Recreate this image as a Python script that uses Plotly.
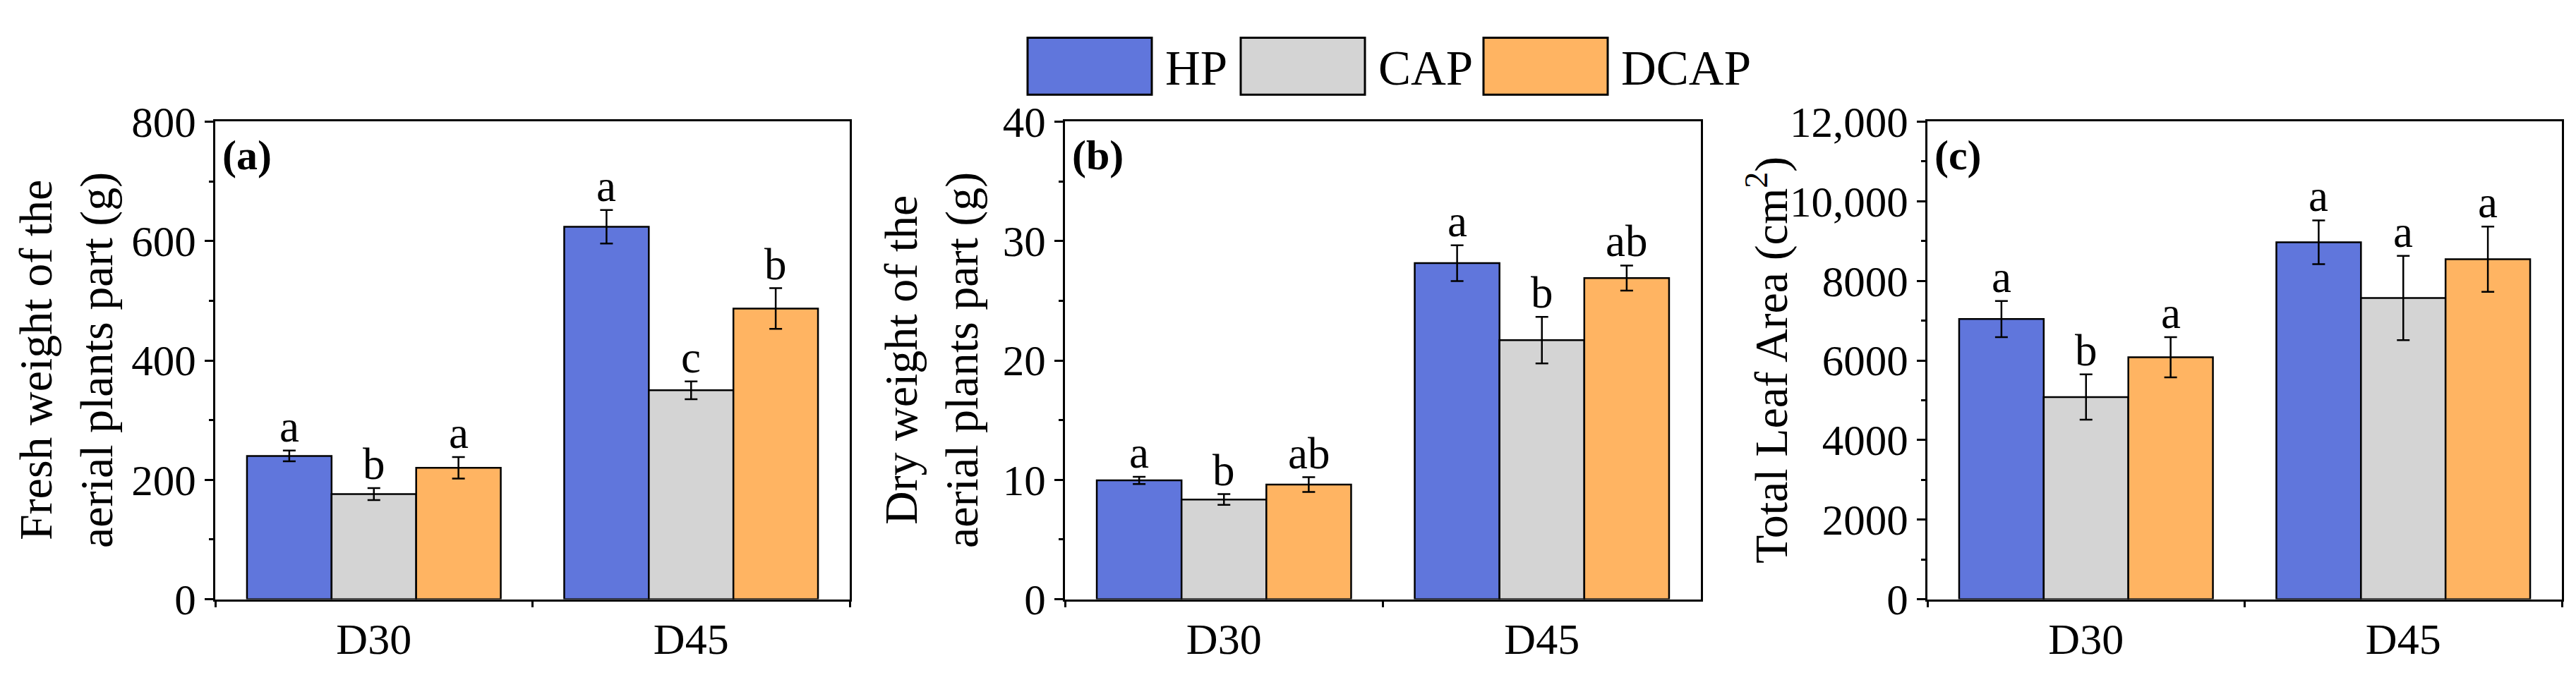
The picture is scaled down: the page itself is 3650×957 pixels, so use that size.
import plotly.graph_objects as go

W, H = 3650, 957

categories = ["D30", "D45"]
series_names = ["HP", "CAP", "DCAP"]
colors = {"HP": "#6076DC", "CAP": "#D4D4D4", "DCAP": "#FFB462"}

# Panel (a): fresh weight (g)
fresh_HP = [240, 624]
fresh_CAP = [176, 350]
fresh_DCAP = [220, 487]
fresh_HP_err = [9, 28]
fresh_CAP_err = [10, 15]
fresh_DCAP_err = [18, 34]
fresh_letters = {"HP": ["a", "a"], "CAP": ["b", "c"], "DCAP": ["a", "b"]}

# Panel (b): dry weight (g)
dry_HP = [9.95, 28.15]
dry_CAP = [8.35, 21.7]
dry_DCAP = [9.6, 26.9]
dry_HP_err = [0.3, 1.5]
dry_CAP_err = [0.45, 1.95]
dry_DCAP_err = [0.62, 1.05]
dry_letters = {"HP": ["a", "a"], "CAP": ["b", "b"], "DCAP": ["ab", "ab"]}

# Panel (c): total leaf area (cm2)
area_HP = [7040, 8970]
area_CAP = [5080, 7570]
area_DCAP = [6080, 8545]
area_HP_err = [455, 550]
area_CAP_err = [570, 1060]
area_DCAP_err = [505, 820]
area_letters = {"HP": ["a", "a"], "CAP": ["b", "a"], "DCAP": ["a", "a"]}

a_tickvals = [0, 200, 400, 600, 800]
a_ticktext = ["0", "200", "400", "600", "800"]
b_tickvals = [0, 10, 20, 30, 40]
b_ticktext = ["0", "10", "20", "30", "40"]
c_tickvals = [0, 2000, 4000, 6000, 8000, 10000, 12000]
c_ticktext = ["0", "2000", "4000", "6000", "8000", "10,000", "12,000"]

FONT = "Liberation Serif, Times New Roman, serif"

def px_x(p):
    return p / W

def px_y(p):
    return 1 - p / H

panels = [
    dict(vals={"HP": fresh_HP, "CAP": fresh_CAP, "DCAP": fresh_DCAP},
         errs={"HP": fresh_HP_err, "CAP": fresh_CAP_err, "DCAP": fresh_DCAP_err},
         letters=fresh_letters, ymax=800, minor=100, tv=a_tickvals, tt=a_ticktext,
         dom=(305, 1204), label="(a)",
         title="Fresh weight of the<br>aerial plants part (g)", title_x=94),
    dict(vals={"HP": dry_HP, "CAP": dry_CAP, "DCAP": dry_DCAP},
         errs={"HP": dry_HP_err, "CAP": dry_CAP_err, "DCAP": dry_DCAP_err},
         letters=dry_letters, ymax=40, minor=5, tv=b_tickvals, tt=b_ticktext,
         dom=(1509, 2410), label="(b)",
         title="Dry weight of the<br>aerial plants part (g)", title_x=1320),
    dict(vals={"HP": area_HP, "CAP": area_CAP, "DCAP": area_DCAP},
         errs={"HP": area_HP_err, "CAP": area_CAP_err, "DCAP": area_DCAP_err},
         letters=area_letters, ymax=12000, minor=1000, tv=c_tickvals, tt=c_ticktext,
         dom=(2731, 3630), label="(c)",
         title="Total Leaf Area (cm<sup>2</sup>)", title_x=2505),
]

PLOT_TOP, PLOT_BOT = 150, 878

fig = go.Figure()
annotations = []
shapes = []

bargap = 0.2
nser = len(series_names)
bw = (1 - bargap) / nser

for k, p in enumerate(panels):
    xa = "x" if k == 0 else f"x{k+1}"
    ya = "y" if k == 0 else f"y{k+1}"
    for j, s in enumerate(series_names):
        fig.add_trace(go.Bar(
            x=categories, y=p["vals"][s], name=s, xaxis=xa, yaxis=ya,
            marker=dict(color=colors[s], line=dict(color="black", width=2.5)),
            error_y=dict(type="data", array=p["errs"][s], color="black",
                         thickness=2.5, width=9),
            showlegend=False,
        ))
        for i, c in enumerate(categories):
            annotations.append(dict(
                x=i + (j - (nser - 1) / 2) * bw,
                y=p["vals"][s][i] + p["errs"][s][i],
                xref=xa, yref=ya, text=p["letters"][s][i], showarrow=False,
                xanchor="center", yanchor="bottom", yshift=-3,
                font=dict(family=FONT, size=63, color="black"),
            ))
    axis_common = dict(showline=True, linewidth=3, linecolor="black", mirror=True,
                       showgrid=False, zeroline=False, ticks="outside",
                       tickwidth=3, tickcolor="black",
                       tickfont=dict(family=FONT, size=62, color="black"))
    xkey = "xaxis" if k == 0 else f"xaxis{k+1}"
    ykey = "yaxis" if k == 0 else f"yaxis{k+1}"
    fig.update_layout(**{
        xkey: dict(axis_common, domain=[px_x(p["dom"][0]), px_x(p["dom"][1])],
                   anchor=ya, type="category", range=[-0.5, 1.5],
                   tickson="boundaries", ticklen=8),
        ykey: dict(axis_common, domain=[px_y(PLOT_BOT), px_y(PLOT_TOP)],
                   anchor=xa, range=[0, p["ymax"]], tickvals=p["tv"], ticktext=p["tt"],
                   ticklen=12, tickfont=dict(family=FONT, size=61, color="black"),
                   minor=dict(dtick=p["minor"], tick0=0, ticks="outside", ticklen=6,
                              tickwidth=3, tickcolor="black", showgrid=False)),
    })
    # panel label
    annotations.append(dict(
        x=px_x(p["dom"][0] + 8), y=px_y(201), xref="paper", yref="paper",
        text=f"<b>{p['label']}</b>", showarrow=False, xanchor="left", yanchor="middle",
        font=dict(family=FONT, size=60, color="black"),
    ))
    # y-axis title
    annotations.append(dict(
        x=px_x(p["title_x"]), y=px_y((PLOT_TOP + PLOT_BOT) / 2), xref="paper", yref="paper",
        text=p["title"], showarrow=False, textangle=-90, xanchor="center", yanchor="middle",
        font=dict(family=FONT, size=66, color="black"),
    ))

# Legend (drawn as swatches + labels)
legend_x = [1456, 1758, 2102]
legend_box_w = 176
legend_top, legend_bot = 22, 109
legend_text_gap = 17
for s, lx in zip(series_names, legend_x):
    shapes.append(dict(type="rect", xref="paper", yref="paper",
                       x0=px_x(lx), x1=px_x(lx + legend_box_w),
                       y0=px_y(legend_bot), y1=px_y(legend_top),
                       fillcolor=colors[s], line=dict(color="black", width=3)))
    annotations.append(dict(
        x=px_x(lx + legend_box_w + legend_text_gap), y=px_y((legend_top + legend_bot) / 2 + 3),
        xref="paper", yref="paper", text=s, showarrow=False,
        xanchor="left", yanchor="middle",
        font=dict(family=FONT, size=69, color="black"),
    ))

fig.update_layout(
    width=W, height=H, autosize=False,
    margin=dict(l=0, r=0, t=0, b=0),
    paper_bgcolor="white", plot_bgcolor="white",
    barmode="group", bargap=bargap, bargroupgap=0,
    annotations=annotations, shapes=shapes,
    font=dict(family=FONT, color="black"),
)

fig.write_html("out.html",
               config={"displayModeBar": False},
               post_script="document.body.style.margin='0';document.body.style.overflow='hidden';")
